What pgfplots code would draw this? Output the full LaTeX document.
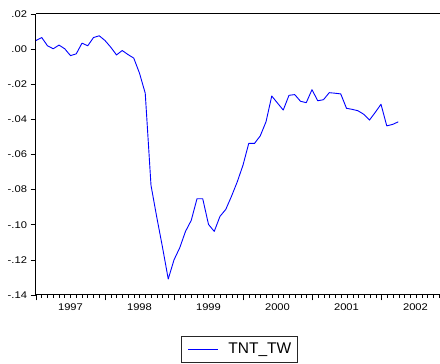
\documentclass[border=0pt]{standalone}
\usepackage{pgfplots}
\usepackage{pgfplotstable}
\pgfplotsset{compat=1.18}
\usepackage{fontspec}
\setmainfont{Liberation Sans}
\newfontfamily\tickfont[FakeStretch=1.15]{Liberation Sans}
\newfontfamily\legfont{Liberation Sans}

% monthly series, month 0 = January 1997
\pgfplotstableread{
m v
0 0.0049
1 0.0066
2 0.0019
3 0.0002
4 0.0023
5 0.0002
6 -0.0037
7 -0.0027
8 0.0034
9 0.0019
10 0.0066
11 0.0076
12 0.0049
13 0.0011
14 -0.0033
15 -0.0008
16 -0.0031
17 -0.0051
18 -0.0137
19 -0.0251
20 -0.0775
21 -0.0956
22 -0.1128
23 -0.1309
24 -0.1200
25 -0.1131
26 -0.1038
27 -0.0975
28 -0.0852
29 -0.0852
30 -0.0998
31 -0.1038
32 -0.0952
33 -0.0913
34 -0.0838
35 -0.0756
36 -0.0661
37 -0.0537
38 -0.0537
39 -0.0494
40 -0.0414
41 -0.0267
42 -0.0307
43 -0.0347
44 -0.0263
45 -0.0259
46 -0.0297
47 -0.0305
48 -0.0231
49 -0.0294
50 -0.0288
51 -0.0248
52 -0.0251
53 -0.0255
54 -0.0337
55 -0.0343
56 -0.0351
57 -0.0371
58 -0.0404
59 -0.0360
60 -0.0314
61 -0.0437
62 -0.0429
63 -0.0414
}\tntdata

\begin{document}
\begin{tikzpicture}
\useasboundingbox (0,0) rectangle (440pt,364pt);
\begin{axis}[
  at={(36pt,69pt)}, anchor=south west,
  scale only axis, width=404pt, height=281pt,
  xmin=1997, xmax=2002.855, ymin=-0.14, ymax=0.02,
  axis x line=box, axis y line=left,
  x axis line style={-}, y axis line style={-},
  axis line style={line width=1pt, black},
  tick align=outside, xtick pos=left, ytick pos=left,
  major tick length=5.5pt, minor tick length=3pt,
  tick style={line width=0.7pt, black},
  xtick={1997,1998,1999,2000,2001,2002},
  xticklabels={},
  minor xtick={1997.0833,1997.1667,...,2002.85},
  extra x ticks={1997.5,1998.5,1999.5,2000.5,2001.5,2002.5},
  extra x tick labels={1997,1998,1999,2000,2001,2002},
  extra x tick style={tick style={draw=none}},
  ytick={-0.14,-0.12,-0.10,-0.08,-0.06,-0.04,-0.02,0,0.02},
  yticklabels={-.14,-.12,-.10,-.08,-.06,-.04,-.02,.00,.02},
  ticklabel style={font=\tickfont\fontsize{9.7}{11}\selectfont},
  legend style={
    at={(axis description cs:0.5037,-0.1922)}, anchor=center,
    draw=black!85, line width=0.6pt,
    font=\legfont\fontsize{15.5}{18}\selectfont,
    nodes={inner sep=0pt}, column sep=10pt,
    inner xsep=6pt, inner ysep=7pt,
  },
  legend image code/.code={\draw[blue, line width=0.8pt] (0pt,0pt) -- (30pt,0pt);},
]
\addplot[blue, line width=0.9pt, line join=round]
  table[x expr=1997+\thisrow{m}/12, y=v] {\tntdata};
\addlegendentry{TNT\_TW}
\end{axis}
\end{tikzpicture}
\end{document}
